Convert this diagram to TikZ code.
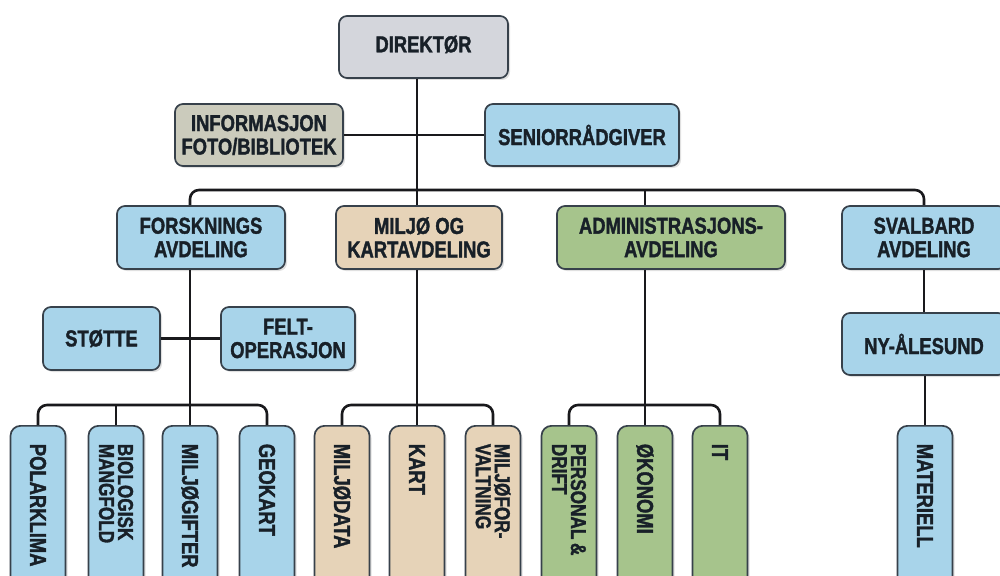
\documentclass[tikz,border=0pt]{standalone}
\usepackage{fontspec}
\setmainfont{Liberation Sans}[FakeStretch=0.8, BoldFeatures={FakeBold=1.5}]
\usetikzlibrary{calc,shadows}
\definecolor{bluefill}{RGB}{168,212,234}
\definecolor{tanfill}{RGB}{230,211,184}
\definecolor{greenfill}{RGB}{166,196,140}
\definecolor{dirfill}{RGB}{212,214,220}
\definecolor{infofill}{RGB}{203,203,188}
\definecolor{edgecol}{RGB}{55,65,75}
\definecolor{textcol}{RGB}{24,32,40}
\definecolor{linecol}{RGB}{25,25,28}
\begin{document}
\begin{tikzpicture}[x=1pt,y=-1pt,
  box/.style={draw=edgecol, line width=1.7pt, rounded corners=8pt, align=center,
    inner sep=0pt, text=textcol, font=\bfseries\fontsize{23}{23.5}\selectfont,
    drop shadow={shadow xshift=2pt, shadow yshift=-2pt, fill=black, opacity=0.12}},
  hbox/.style={box, minimum width=#1, minimum height=63pt},
  vbox/.style={box, rotate=-90, anchor=west, minimum height=55pt, text width=139pt,
    inner xsep=18pt, align=left, rounded corners=10pt,
    drop shadow={shadow xshift=0pt, shadow yshift=-2pt, fill=black, opacity=0.12}},
  vtwo/.style={font=\bfseries\fontsize{21.5}{19}\selectfont},
  conn/.style={line width=2.6pt, draw=linecol},
]
\useasboundingbox (0,0) rectangle (1000,575);
\fill[white] (0,0) rectangle (1000,575);
\clip (0,0) rectangle (1000,575);

% top level
\node[hbox=169pt, fill=dirfill, minimum height=62pt] (dir) at (423.5,47) {\raisebox{6pt}{DIREKTØR}};
\node[hbox=168pt, fill=infofill, minimum height=62pt] (info) at (259,135) {INFORMASJON\\FOTO/BIBLIOTEK};
\node[hbox=194pt, fill=bluefill, minimum height=62pt] (senior) at (582,135) {SENIORRÅDGIVER};

% departments
\node[hbox=168pt, fill=bluefill] (forsk) at (201,237.5) {FORSKNINGS\\AVDELING};
\node[hbox=166pt, fill=tanfill] (miljo) at (419,237.5) {MILJØ OG\\KARTAVDELING};
\node[hbox=228pt, fill=greenfill] (admin) at (671,237.5) {ADMINISTRASJONS-\\AVDELING};
\node[hbox=164pt, fill=bluefill] (svalbard) at (924,237.5) {SVALBARD\\AVDELING};

% second level
\node[hbox=117pt, fill=bluefill] (stotte) at (101.5,338.5) {STØTTE};
\node[hbox=134pt, fill=bluefill] (felt) at (288,338.5) {FELT-\\OPERASJON};
\node[hbox=164pt, fill=bluefill, minimum height=62pt] (ny) at (924,344) {NY-ÅLESUND};

% bottom vertical boxes
\node[vbox, fill=bluefill] (polar) at (38,425) {POLARKLIMA};
\node[vbox, vtwo, fill=bluefill] (bio) at (116,425) {BIOLOGISK\\MANGFOLD};
\node[vbox, fill=bluefill] (milgift) at (190,425) {MILJØGIFTER};
\node[vbox, fill=bluefill] (geo) at (267,425) {GEOKART};
\node[vbox, fill=tanfill] (mdata) at (342,425) {MILJØDATA};
\node[vbox, fill=tanfill] (kart) at (417,425) {KART};
\node[vbox, vtwo, fill=tanfill] (mforv) at (493,425) {MILJØFOR-\\VALTNING};
\node[vbox, vtwo, fill=greenfill] (pers) at (569,425) {PERSONAL\,\&\\DRIFT};
\node[vbox, fill=greenfill] (okon) at (645,425) {ØKONOMI};
\node[vbox, fill=greenfill] (it) at (720,425) {IT};
\node[vbox, fill=bluefill] (mat) at (925,425) {MATERIELL};

% bar coordinates
\coordinate (topbar) at (417,190);
\coordinate (fbar) at (190,405);
\coordinate (mbar) at (417,405);
\coordinate (abar) at (645,405);

% connectors
\draw[conn] (info.east) -- (senior.west);
\draw[conn] (kart.west |- dir.south) -- (kart.west |- miljo.north);
\draw[conn, rounded corners=9pt] (milgift.west |- forsk.north) |- (topbar) -| (svalbard.north);
\draw[conn] (okon.west |- topbar) -- (okon.west |- admin.north);

\draw[conn] (milgift.west |- forsk.south) -- (milgift.west);
\draw[conn] (stotte.east) -- (felt.west);
\draw[conn, rounded corners=9pt] (polar.west) |- (fbar) -| (geo.west);
\draw[conn] (bio.west) -- (bio.west |- fbar);

\draw[conn] (kart.west |- miljo.south) -- (kart.west);
\draw[conn, rounded corners=9pt] (mdata.west) |- (mbar) -| (mforv.west);

\draw[conn] (okon.west |- admin.south) -- (okon.west);
\draw[conn, rounded corners=9pt] (pers.west) |- (abar) -| (it.west);

\draw[conn] (svalbard.south) -- (ny.north);
\draw[conn] (mat.west |- ny.south) -- (mat.west);
\end{tikzpicture}
\end{document}
